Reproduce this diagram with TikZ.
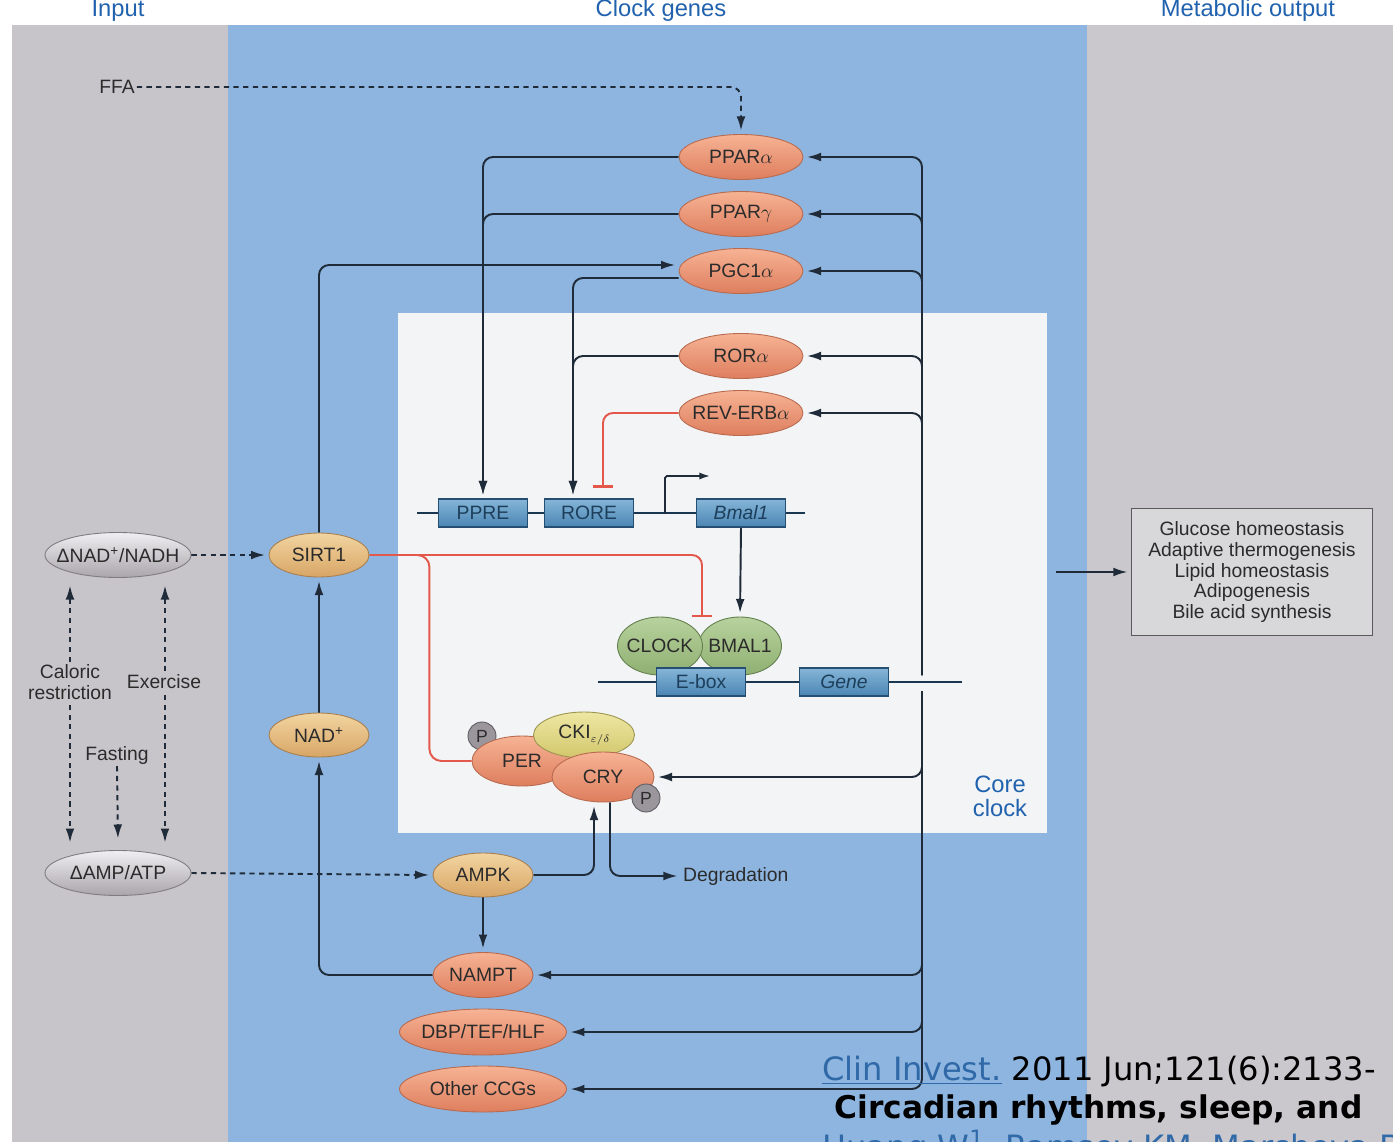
\documentclass[tikz,border=0pt]{standalone}
\usepackage{fontspec}
\setmainfont{Liberation Sans}
\newfontfamily\citefont{DejaVu Sans}
\usetikzlibrary{shapes.geometric,arrows.meta,calc}
\definecolor{graybg}{HTML}{C7C5C9}
\definecolor{graybgb}{HTML}{CAC8CC}
\definecolor{bluebg}{HTML}{8EB5DF}
\definecolor{corebg}{HTML}{F2F4F6}
\definecolor{salT}{HTML}{F6B394}
\definecolor{salB}{HTML}{DE7E5E}
\definecolor{salD}{HTML}{B86A4E}
\definecolor{tanT}{HTML}{F2D4A0}
\definecolor{tanB}{HTML}{D8A666}
\definecolor{tanD}{HTML}{A88050}
\definecolor{gnT}{HTML}{F0EEF1}
\definecolor{gnB}{HTML}{A9A5AB}
\definecolor{gnD}{HTML}{7F7B82}
\definecolor{grT}{HTML}{B8D29E}
\definecolor{grB}{HTML}{8FB071}
\definecolor{grD}{HTML}{627F4E}
\definecolor{yeT}{HTML}{EEE7A3}
\definecolor{yeB}{HTML}{D2C76C}
\definecolor{yeD}{HTML}{9C9550}
\definecolor{bxT}{HTML}{86B5D8}
\definecolor{bxB}{HTML}{4A86B3}
\definecolor{bxD}{HTML}{244F72}
\definecolor{pfill}{HTML}{9A969C}
\definecolor{pdraw}{HTML}{5F5B62}
\definecolor{redl}{HTML}{E3584B}
\definecolor{linec}{HTML}{1F2B38}
\definecolor{txt}{HTML}{2B2B2B}
\definecolor{headc}{HTML}{2162AE}
\definecolor{linkc}{HTML}{2F69A8}
\definecolor{outfill}{HTML}{D8D7DA}
\newcommand{\zb}[1]{\makebox[0pt]{#1}}
\pgfdeclarelayer{back}
\pgfdeclarelayer{mid}
\pgfsetlayers{back,mid,main}
\begin{document}
\begin{tikzpicture}[x=0.02cm,y=-0.02cm,
  lbl/.style={font=\fontsize{11}{12}\selectfont, text=txt, inner sep=1pt},
  oval/.style={ellipse, inner sep=0pt, line width=0.5pt, font=\fontsize{11}{12}\selectfont, text=txt},
  ovsal/.style={oval, draw=salD, top color=salT, bottom color=salB},
  ovtan/.style={oval, draw=tanD, top color=tanT, bottom color=tanB},
  ovgray/.style={oval, draw=gnD, top color=gnT, bottom color=gnB},
  ovgreen/.style={oval, draw=grD, top color=grT, bottom color=grB},
  ovyel/.style={oval, draw=yeD, top color=yeT, bottom color=yeB},
  pcirc/.style={circle, minimum size=0.56cm, inner sep=0pt, draw=pdraw, fill=pfill, line width=0.5pt, font=\fontsize{10}{11}\selectfont, text=txt},
  gbox/.style={rectangle, minimum width=1.78cm, minimum height=0.56cm, inner sep=0pt, draw=bxD, line width=0.6pt, top color=bxT, bottom color=bxB, font=\fontsize{11}{12}\selectfont, text=bxD!80!black},
  tipA/.tip={Latex[length=8pt,width=5pt]},
  conn/.style={draw=linec, line width=1.1pt, -tipA, shorten >=2pt},
  inhib/.style={draw=redl, line width=1.1pt, -{Bar[width=11pt,line width=1.3pt]}, shorten >=1pt},
  redline/.style={draw=redl, line width=1.1pt},
  dasharr/.style={draw=linec, line width=1.1pt, dash pattern=on 3pt off 2.5pt, -tipA, shorten >=2pt},
  dna/.style={draw=bxD!70!black, line width=1.6pt},
  head/.style={font=\fontsize{13.5}{14}\selectfont, text=headc, anchor=base},
]
\useasboundingbox (0,0) rectangle (1393,1142);
\begin{pgfonlayer}{back}
\fill[white] (0,0) rectangle (1393,1142);
\fill[graybg] (12,25) rectangle (228,1142);
\fill[bluebg] (228,25) rectangle (1087,1142);
\fill[graybgb] (1087,25) rectangle (1393,1142);
\fill[corebg] (398,313) rectangle (1047,833);
\end{pgfonlayer}

% headers
\node[head] (hin) at (118,17) {Input};
\node[head] (hclk) at (661,17) {Clock genes};
\node[head] (hmet) at (1248,17) {Metabolic output};

% clock-controlled nodes
\node[ovsal, minimum width=2.48cm, minimum height=0.9cm] (ppara) at (741,157) {\zb{PPAR$\alpha$}};
\node[ovsal, minimum width=2.48cm, minimum height=0.9cm] (pparg) at (741,214) {\zb{PPAR$\gamma$}};
\node[ovsal, minimum width=2.48cm, minimum height=0.9cm] (pgc) at (741,271) {\zb{PGC1$\alpha$}};
\node[ovsal, minimum width=2.48cm, minimum height=0.9cm] (rora) at (741,356) {\zb{ROR$\alpha$}};
\node[ovsal, minimum width=2.48cm, minimum height=0.9cm] (reverb) at (741,413) {\zb{REV-ERB$\alpha$}};

\node[ovtan, minimum width=2.0cm, minimum height=0.88cm] (sirt1) at (319,555) {\zb{SIRT1}};
\node[ovtan, minimum width=2.0cm, minimum height=0.88cm] (nad) at (319,735) {\zb{NAD\textsuperscript{+}}};
\node[ovtan, minimum width=2.0cm, minimum height=0.88cm] (ampk) at (483,875) {\zb{AMPK}};
\node[ovsal, minimum width=2.0cm, minimum height=0.9cm] (nampt) at (483,975) {\zb{NAMPT}};
\node[ovsal, minimum width=3.34cm, minimum height=0.92cm] (dbp) at (483,1032) {\zb{DBP/TEF/HLF}};
\node[ovsal, minimum width=3.34cm, minimum height=0.92cm] (ccg) at (483,1089) {\zb{Other CCGs}};

\node[ovgray, minimum width=2.92cm, minimum height=0.9cm] (nadh) at (118,555) {\zb{ΔNAD\textsuperscript{+}/NADH}};
\node[ovgray, minimum width=2.92cm, minimum height=0.9cm] (ampatp) at (118,873) {\zb{ΔAMP/ATP}};

% promoter boxes
\node[gbox] (ppre) at (483,513) {PPRE};
\node[gbox] (rore) at (589,513) {RORE};
\node[gbox] (bmalbox) at (741,513) {\itshape Bmal1};

% CLOCK/BMAL1
\node[ovgreen, minimum width=1.66cm, minimum height=1.16cm] (bmal1) at (740,646) {\zb{BMAL1}};
\node[ovgreen, minimum width=1.7cm, minimum height=1.16cm] (clock) at (660,646) {\zb{CLOCK}};
\node[gbox] (ebox) at (701,682) {E-box};
\node[gbox] (gene) at (844,682) {\itshape Gene};

% PER/CRY complex
\node[pcirc] (p1) at (482,736) {P};
\node[ovsal, minimum width=2.0cm, minimum height=1.0cm] (per) at (522,761) {\zb{PER}};
\node[ovyel, minimum width=2.02cm, minimum height=0.92cm] (cki) at (584,735) {\zb{CKI\raisebox{-0.45ex}{\fontsize{6}{6}\selectfont$\varepsilon/\delta$}}};
\node[ovsal, minimum width=2.04cm, minimum height=1.0cm] (cry) at (603,777) {\zb{CRY}};
\node[pcirc] (p2) at (646,798) {P};

% output box
\node[rectangle, draw=black!65, fill=outfill, line width=0.7pt, minimum width=4.82cm, minimum height=2.54cm, align=center, font=\fontsize{11}{11.9}\selectfont, text=txt] (outbox) at (1252,572) {Glucose homeostasis\\Adaptive thermogenesis\\Lipid homeostasis\\Adipogenesis\\Bile acid synthesis};

% labels
\node[lbl] (ffa) at (117,87) {FFA};
\node[lbl, anchor=west] (degr) at (681,876) {Degradation};
\node[lbl, fill=graybg, align=center, inner sep=1pt, font=\fontsize{11}{11.5}\selectfont] (calr) at (70,682) {Caloric\\restriction};
\node[lbl, fill=graybg] (exer) at (164,682) {Exercise};
\node[lbl] (fast) at (117,755) {Fasting};
\node[font=\fontsize{13.5}{13.6}\selectfont, text=headc, align=center] (core) at (1000,796) {Core\\clock};

\coordinate (trunkT) at (922,675);
\coordinate (trunkB) at (922,691);
\coordinate (cbtop) at (702,619);
\coordinate (outsrc) at (1056,572);

\begin{pgfonlayer}{mid}
% DNA lines
\draw[dna] (417,513) -- (805,513);
\draw[dna] (598,682) -- (962,682);
\draw[draw=linec, line width=1pt, rounded corners=1pt, -{Latex[length=6pt,width=4pt]}] (665,513) |- (710,476);

% trunk branches
\foreach \n in {ppara,pparg,pgc,rora,reverb}
  \draw[conn, rounded corners=0.2cm] (trunkT) |- (\n);
\foreach \n in {cry,nampt,dbp,ccg}
  \draw[conn, rounded corners=0.2cm] (trunkB) |- (\n);

% left side regulation
\draw[conn, rounded corners=0.2cm] (ppara.west) -| (ppre.north);
\draw[conn, rounded corners=0.2cm] (pparg.west) -| (ppre.north);
\draw[conn, rounded corners=0.2cm] ([yshift=-0.14cm]pgc.west) -| ([xshift=-0.32cm]rore.north);
\draw[conn, rounded corners=0.2cm] (rora.west) -| ([xshift=-0.32cm]rore.north);
\draw[inhib, rounded corners=0.2cm] (reverb.west) -| ([xshift=0.28cm,yshift=0.18cm]rore.north);
\draw[conn, rounded corners=0.2cm] (sirt1.north) |- ([yshift=0.12cm]pgc.west);
\draw[conn] (nad.north) -- (sirt1.south);
\draw[conn, rounded corners=0.2cm] (nampt.west) -| (nad.south);
\draw[conn] (ampk.south) -- (nampt.north);
\draw[conn, rounded corners=0.2cm] (ampk.east) -| ([xshift=-0.18cm]cry.south);
\draw[conn, rounded corners=0.2cm] ([xshift=0.14cm]cry.south) |- (degr.west);
\draw[conn] (bmalbox.south) -- (bmal1.north);
\draw[inhib, rounded corners=0.2cm] (sirt1.east) -| (cbtop);
\draw[redline, rounded corners=0.24cm] ($(sirt1.east)+(40,0)$) -| ($(sirt1.east)+(60,100)$) |- (per.west);

% dashed inputs
\draw[dasharr, rounded corners=0.2cm] (ffa.east) -| (ppara.north);
\draw[dasharr] (nadh.east) -- (sirt1.west);
\draw[dasharr] (ampatp.east) -- (ampk.west);
\draw[dasharr, tipA-tipA, shorten <=2pt] ($(nadh.south)+(-48,4)$) -- ($(ampatp.north)+(-48,-4)$);
\draw[dasharr, tipA-tipA, shorten <=2pt] ($(nadh.south)+(47,4)$) -- ($(ampatp.north)+(47,-4)$);
\draw[dasharr] (fast.south) -- ($(ampatp.north)+(0,-8)$);

% to output
\draw[conn] (outsrc) -- (outbox.west);
\end{pgfonlayer}

% citation overlay
\node[anchor=base west, inner sep=0pt, font=\citefont\fontsize{18.3}{22}\selectfont] (cit1) at (822,1080) {\textcolor{linkc}{\underline{Clin Invest.}} 2011 Jun;121(6):2133-};
\node[anchor=base west, inner sep=0pt, font=\citefont\bfseries\fontsize{17.8}{22}\selectfont] (cit2) at (834,1118) {Circadian rhythms, sleep, and};
\node[anchor=base west, inner sep=0pt, font=\citefont\fontsize{18.3}{22}\selectfont, text=linkc] (cit3) at (822,1158) {Huang W\textsuperscript{1}, Ramsey KM, Marcheva B};
\end{tikzpicture}
\end{document}
